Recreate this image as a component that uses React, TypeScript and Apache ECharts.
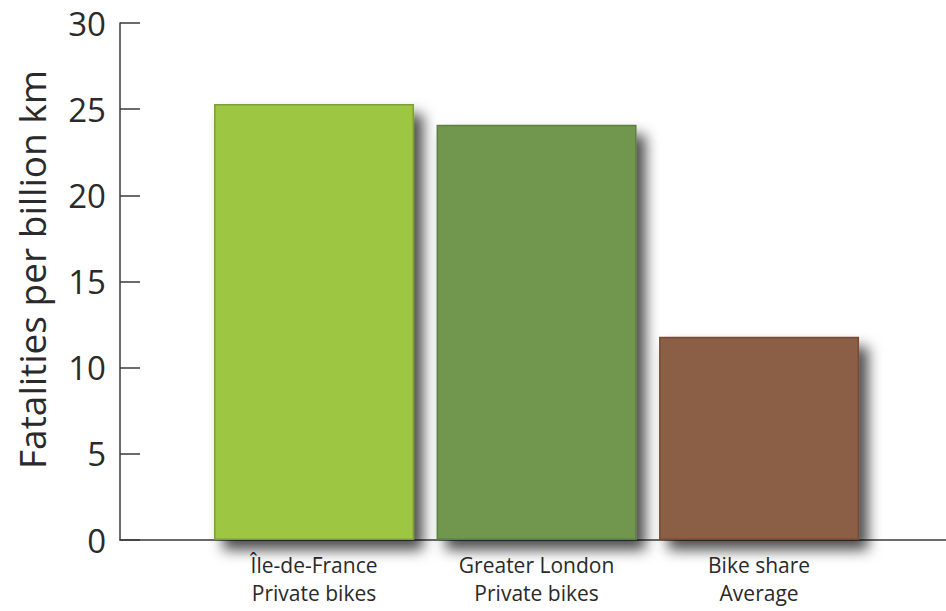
import React, { useEffect, useRef } from "react";
import * as echarts from "echarts";

// Category names and the x positions they sit at on the value axis
const categories = ["Île-de-France\nPrivate bikes", "Greater London\nPrivate bikes", "Bike share\nAverage"];
const positions = [1, 2, 3];
// Fatalities per billion km
const values = [25.3, 24.1, 11.8];
const barColors = ["#9dc642", "#6f974e", "#8b5e44"];
const borderColors = ["#7e9e3a", "#5d7f41", "#744c36"];
const yTicks = [0, 5, 10, 15, 20, 25, 30];

export default function App() {
  const ref = useRef<HTMLDivElement>(null);

  useEffect(() => {
    if (!ref.current) return;
    const chart = echarts.init(ref.current, undefined, { renderer: "svg" });
    const font = "'Open Sans', 'Noto Sans', sans-serif";
    chart.setOption({
      animation: false,
      backgroundColor: "#ffffff",
      grid: { left: 120, right: 0, top: 23, bottom: 71 },
      xAxis: {
        type: "value",
        min: 0.128,
        max: 3.84,
        splitLine: { show: false },
        axisLine: { show: true, lineStyle: { color: "#3a3a3a", width: 1.5 } },
        axisTick: { show: false },
        axisLabel: {
          customValues: positions,
          formatter: (v: number) => categories[positions.indexOf(Math.round(v))] ?? "",
          fontFamily: font,
          fontSize: 21,
          lineHeight: 28,
          color: "#2a2a2a",
          margin: 11,
        },
      },
      yAxis: {
        type: "value",
        min: 0,
        max: 30,
        interval: 5,
        name: "Fatalities per billion km",
        nameLocation: "middle",
        nameGap: 70,
        nameTextStyle: { fontFamily: font, fontSize: 37, color: "#2a2a2a", padding: [0, 0, 0, 24] },
        splitLine: { show: false },
        axisLine: { show: true, lineStyle: { color: "#3a3a3a", width: 1.5 } },
        axisTick: { show: true, inside: true, length: 20, lineStyle: { color: "#3a3a3a", width: 1.5 } },
        axisLabel: {
          customValues: yTicks,
          fontFamily: font,
          fontSize: 33,
          color: "#2a2a2a",
          margin: 14,
        },
      },
      series: [
        {
          type: "bar",
          barWidth: 200,
          data: values.map((v, i) => ({
            value: [positions[i], v],
            itemStyle: {
              color: barColors[i],
              borderColor: borderColors[i],
              borderWidth: 1.5,
              shadowColor: "rgba(0,0,0,0.7)",
              shadowBlur: 14,
              shadowOffsetX: 9,
              shadowOffsetY: 10,
            },
          })),
        },
      ],
    });
    return () => chart.dispose();
  }, []);

  return <div ref={ref} style={{ width: 946, height: 611, position: "absolute", left: 0, top: 0 }} />;
}
